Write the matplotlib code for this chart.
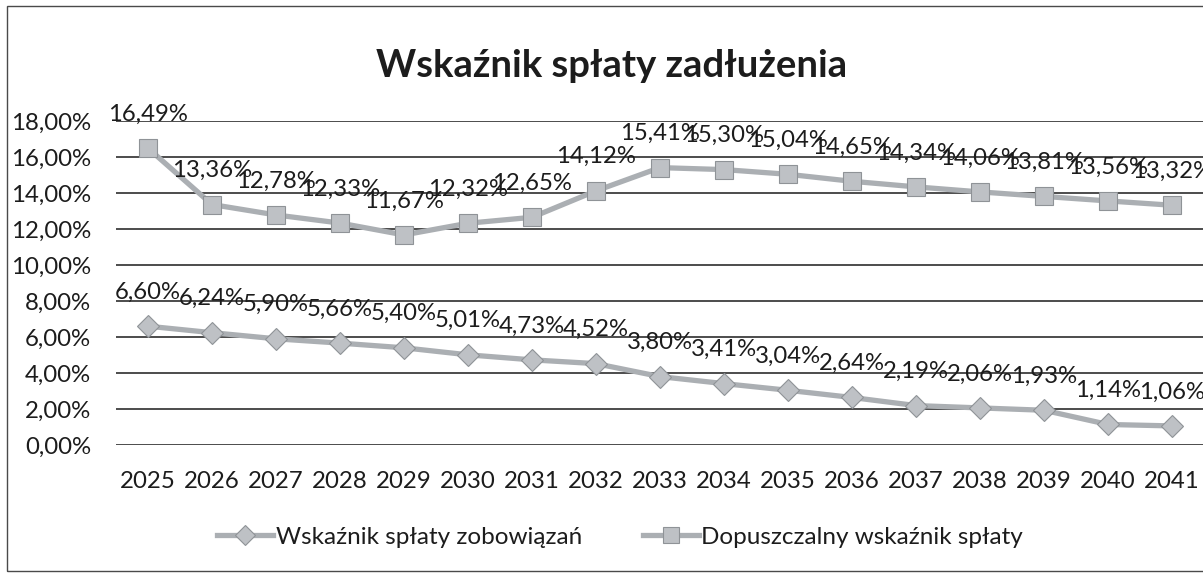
import matplotlib
matplotlib.use('Agg')
import matplotlib.pyplot as plt
from matplotlib.patches import Rectangle
from matplotlib.lines import Line2D

plt.rcParams['font.family'] = ['Lato', 'DejaVu Sans']

# dane
lata = ['2025', '2026', '2027', '2028', '2029', '2030', '2031', '2032', '2033',
        '2034', '2035', '2036', '2037', '2038', '2039', '2040', '2041']
zobowiazania = [6.60, 6.24, 5.90, 5.66, 5.40, 5.01, 4.73, 4.52, 3.80,
                3.41, 3.04, 2.64, 2.19, 2.06, 1.93, 1.14, 1.06]
dopuszczalny = [16.49, 13.36, 12.78, 12.33, 11.67, 12.32, 12.65, 14.12, 15.41,
                15.30, 15.04, 14.65, 14.34, 14.06, 13.81, 13.56, 13.32]
y_ticks = [0, 2, 4, 6, 8, 10, 12, 14, 16, 18]

W, H = 1203, 573
fig = plt.figure(figsize=(W / 100, H / 100), dpi=100)

# ramka wykresu
fig.patches.append(Rectangle((7 / W, 1 - 571 / H), 1.2, (571 - 6) / H,
                             transform=fig.transFigure, fill=False,
                             edgecolor='#4a4a4a', linewidth=1.0))

ax = fig.add_axes([116 / W, 1 - 445 / H, 1088 / W, 324 / H])
x = list(range(len(lata)))

line_col = '#abafb3'
face_col = '#bec1c5'
edge_col = '#8f9397'
txt_col = '#1c1c1c'

ax.plot(x, zobowiazania, color=line_col, linewidth=3.8, marker='D',
        markersize=11, markerfacecolor=face_col, markeredgecolor=edge_col,
        markeredgewidth=0.8, zorder=3)
ax.plot(x, dopuszczalny, color=line_col, linewidth=3.8, marker='s',
        markersize=13.5, markerfacecolor=face_col, markeredgecolor=edge_col,
        markeredgewidth=0.8, zorder=3)

for serie in (zobowiazania, dopuszczalny):
    for xi, v in zip(x, serie):
        ax.annotate(f'{v:.2f}%'.replace('.', ','), (xi, v),
                    xytext=(0, 34), textcoords='offset pixels',
                    ha='center', va='center', fontsize=17.2, color=txt_col,
                    annotation_clip=False, zorder=4)

ax.set_xlim(-0.5, len(lata) - 0.5)
ax.set_ylim(0, 18)
ax.set_yticks(y_ticks)
ax.set_yticklabels([f'{t:.2f}%'.replace('.', ',') for t in y_ticks])
ax.set_xticks(x)
ax.set_xticklabels(lata)
ax.tick_params(axis='both', length=0, labelsize=17.3, labelcolor=txt_col)
ax.tick_params(axis='y', pad=18)
ax.tick_params(axis='x', pad=19)
ax.grid(axis='y', color='#2e2e2e', linewidth=1.2)
ax.set_axisbelow(True)
for s in ax.spines.values():
    s.set_visible(False)

fig.text(612 / W, 1 - 66 / H, 'Wskaźnik spłaty zadłużenia', ha='center',
         va='center', fontsize=27.5, fontweight='bold', color=txt_col)

handles = [
    Line2D([], [], color=line_col, linewidth=3.8, marker='D', markersize=10,
           markerfacecolor=face_col, markeredgecolor=edge_col, markeredgewidth=0.8),
    Line2D([], [], color=line_col, linewidth=3.8, marker='s', markersize=12,
           markerfacecolor=face_col, markeredgecolor=edge_col, markeredgewidth=0.8),
]
fig.legend(handles, ['Wskaźnik spłaty zobowiązań', 'Dopuszczalny wskaźnik spłaty'],
           loc='center', bbox_to_anchor=(620 / W, 1 - 537 / H), ncol=2,
           frameon=False, fontsize=17.5, handlelength=2.3, handletextpad=0.1,
           columnspacing=2.5, labelcolor=txt_col)

fig.savefig('out.png', dpi=100)
